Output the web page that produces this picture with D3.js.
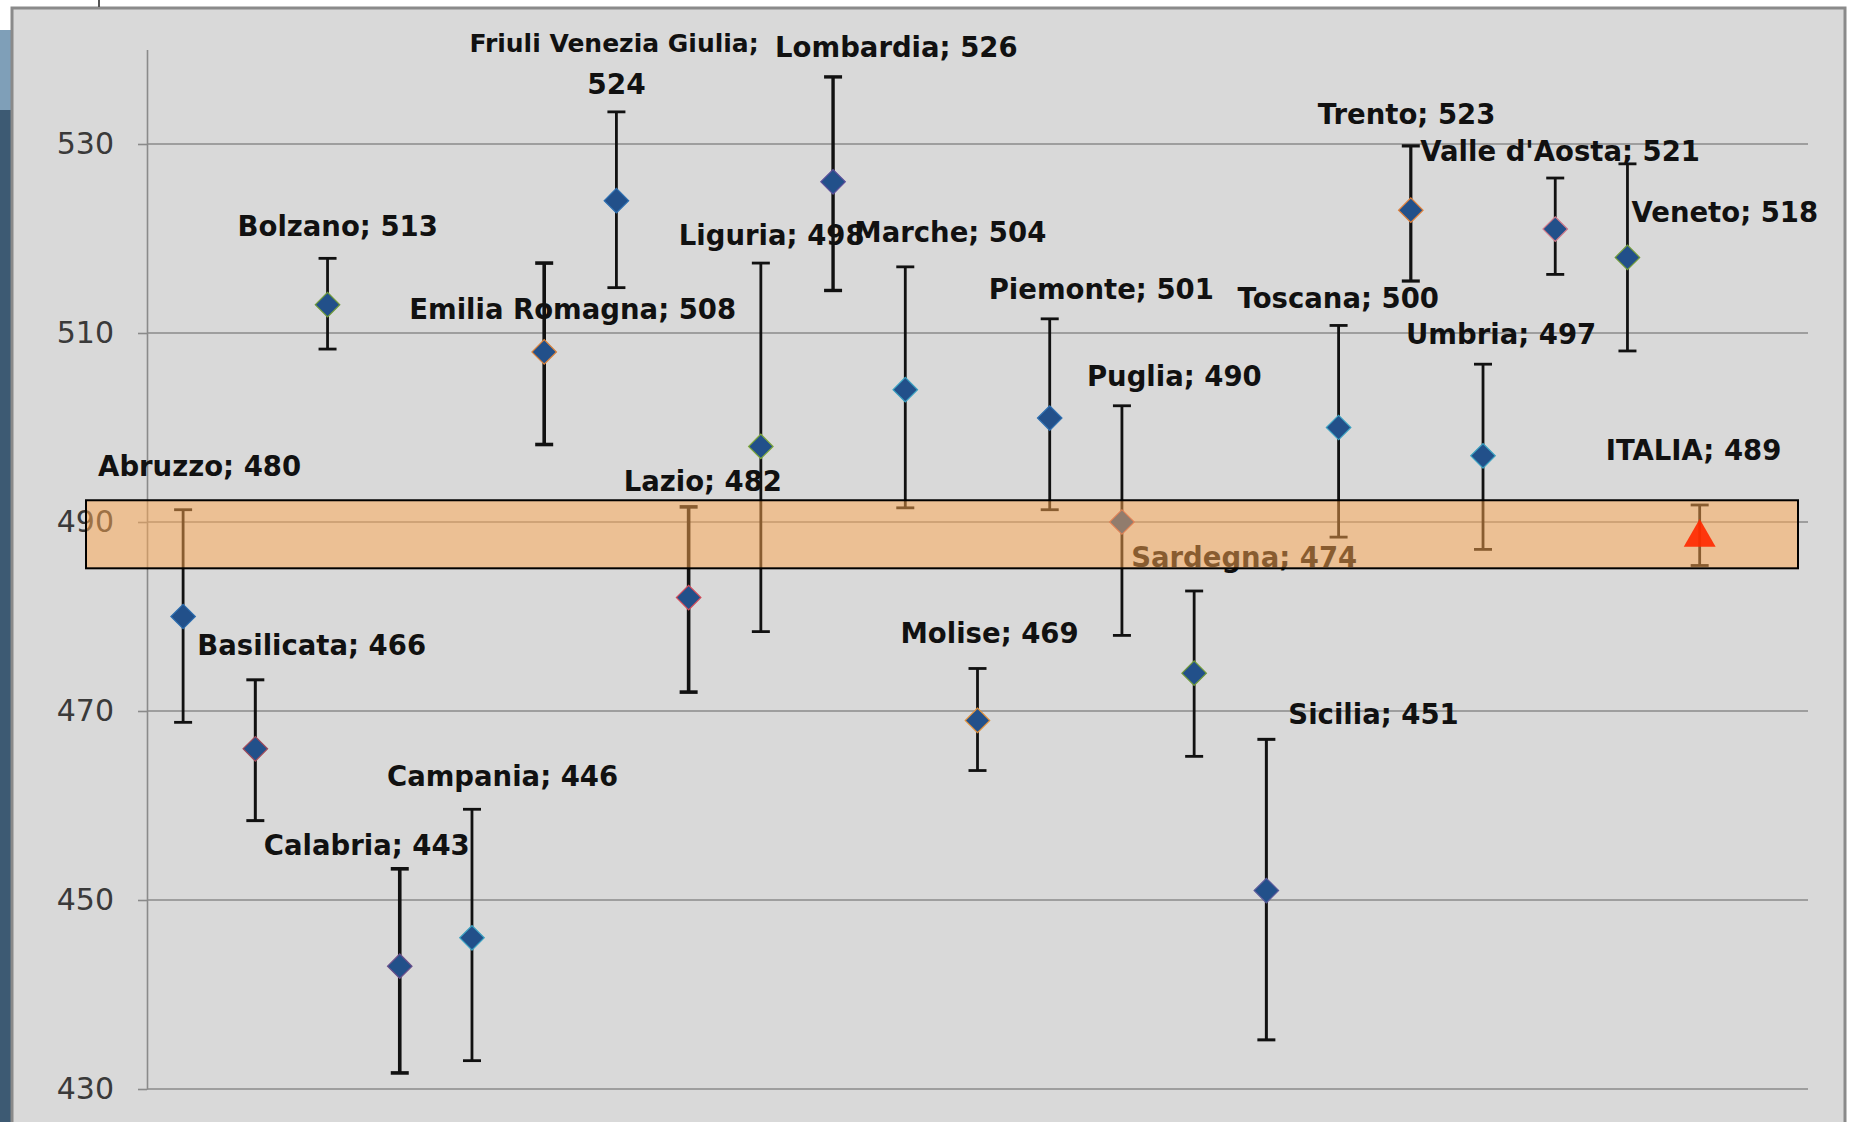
<!DOCTYPE html>
<html>
<head>
<meta charset="utf-8">
<script src="https://cdn.jsdelivr.net/npm/d3@7"></script>
<style>
  html, body { margin: 0; padding: 0; background: #ffffff; }
  svg { display: block; }
</style>
</head>
<body>
<svg id="chart" width="1849" height="1122"></svg>
<script>
// ---------------- data ----------------
const regions = ["Abruzzo", "Basilicata", "Bolzano", "Calabria", "Campania", "Emilia Romagna",
  "Friuli Venezia Giulia", "Lazio", "Liguria", "Lombardia", "Marche", "Molise", "Piemonte",
  "Puglia", "Sardegna", "Sicilia", "Toscana", "Trento", "Umbria", "Valle d'Aosta", "Veneto", "ITALIA"];
const scores = [480, 466, 513, 443, 446, 508, 524, 482, 498, 526, 504, 469, 501, 490, 474, 451, 500, 523, 497, 521, 518, 489];
const lowerCI = [468.8, 458.4, 508.3, 431.7, 433.0, 498.2, 514.8, 472.0, 478.4, 514.5, 491.5, 463.7, 491.3, 478.0, 465.2, 435.2, 488.4, 515.5, 487.1, 516.2, 508.1, 485.4];
const upperCI = [491.3, 473.3, 517.9, 453.3, 459.6, 517.4, 533.4, 491.6, 517.4, 537.1, 517.0, 474.5, 511.5, 502.3, 482.7, 467.0, 510.8, 529.8, 506.7, 526.4, 527.9, 491.8];
const yTicks = [430, 450, 470, 490, 510, 530];
const italiaBand = [485.1, 492.3];

// ---------------- layout (label offsets relative to marker, px) ----------------
const labelOffsets = [
  [-85, -150], [-58, -103], [-90, -78], [-136, -121], [-85, -161], [-135, -43],
  [-147, -157], [-65, -116], [-82, -211], [-58, -134], [-51, -157], [-77, -87],
  [-61, -129], [-35, -146], [-63, -116], [22, -176], [-101, -129], [-93, -96],
  [-77, -121], [-135, -78], [4, -45], [-94, -81]
];
const markerOutline = ["#2e6fb0", "#a04a5a", "#6f9a3a", "#6a4f8a", "#3aa0c0", "#d9813a",
  "#2e6fb0", "#d04a5a", "#7fa83a", "#5a4f9a", "#3aa0c0", "#e0903a", "#2e6fb0",
  "#c05a5a", "#6f9a3a", "#5a5a9a", "#3aa0c0", "#e0803a", "#3aa0c0", "#d07a8a", "#6f9a3a", "#ff2000"];
const barWidths = [2.8, 3, 2.8, 3.6, 2.8, 3.6, 2.8, 3.6, 2.8, 3.4, 2.8, 2.8, 2.8, 2.8, 2.8, 3, 2.8, 3.2, 2.8, 2.8, 2.8, 2.8];

// ---------------- drawing ----------------
const svg = d3.select("#chart");
const W = 1849, H = 1122;

svg.append("rect").attr("x", 0).attr("y", 0).attr("width", W).attr("height", H).attr("fill", "#ffffff");
svg.append("rect").attr("x", 0).attr("y", 30).attr("width", 12).attr("height", H - 30).attr("fill", "#3d5a73");
svg.append("rect").attr("x", 0).attr("y", 30).attr("width", 12).attr("height", 80).attr("fill", "#7f9fb8");
svg.append("rect").attr("x", 12).attr("y", 8).attr("width", 1833).attr("height", H).attr("fill", "#d9d9d9")
  .attr("stroke", "#8a8a8a").attr("stroke-width", 3);
svg.append("line").attr("x1", 99).attr("x2", 99).attr("y1", 0).attr("y2", 7).attr("stroke", "#555").attr("stroke-width", 2);

const x = d3.scaleLinear().domain([0, 23]).range([147, 1808]);
const y = d3.scaleLinear().domain([430, 540]).range([1089, 49.5]);

const yAxis = d3.axisLeft(y).tickValues(yTicks).tickSize(9).tickSizeOuter(0).tickPadding(24);
const ag = svg.append("g").attr("transform", `translate(${x(0)},0)`).call(yAxis);
ag.select(".domain").attr("stroke", "#8a8a8a").attr("stroke-width", 1.6);
ag.selectAll(".tick line").attr("stroke", "#8a8a8a").attr("stroke-width", 1.6);
ag.selectAll(".tick text").attr("font-family", "DejaVu Sans").attr("font-size", 30).attr("fill", "#3a3a3a");

svg.append("g").selectAll("line").data(yTicks).join("line")
  .attr("x1", x(0)).attr("x2", x(23))
  .attr("y1", d => y(d)).attr("y2", d => y(d))
  .attr("stroke", "#8a8a8a").attr("stroke-width", 1.6);

const cx = i => x(i + 0.5);

// error bars
const eb = svg.append("g").attr("stroke", "#111");
regions.forEach((r, i) => {
  const g = eb.append("g").attr("stroke-width", barWidths[i]);
  g.append("line").attr("x1", cx(i)).attr("x2", cx(i)).attr("y1", y(upperCI[i])).attr("y2", y(lowerCI[i]));
  g.append("line").attr("x1", cx(i) - 9).attr("x2", cx(i) + 9).attr("y1", y(upperCI[i])).attr("y2", y(upperCI[i]));
  g.append("line").attr("x1", cx(i) - 9).attr("x2", cx(i) + 9).attr("y1", y(lowerCI[i])).attr("y2", y(lowerCI[i]));
});

// markers (diamonds)
const diamond = d3.symbol().type(d3.symbolSquare).size(300);
regions.forEach((r, i) => {
  if (r !== "ITALIA") {
    svg.append("path").attr("d", diamond())
      .attr("transform", `translate(${cx(i)},${y(scores[i])}) rotate(45)`)
      .attr("fill", "#22508a").attr("stroke", markerOutline[i]).attr("stroke-width", 1.2);
  }
});

// data labels
const lg = svg.append("g").attr("font-family", "DejaVu Sans").attr("font-weight", "bold").attr("fill", "#111");
regions.forEach((r, i) => {
  const px = cx(i) + labelOffsets[i][0];
  const py = y(scores[i]) + labelOffsets[i][1];
  if (r === "Friuli Venezia Giulia") {
    lg.append("text").attr("x", px).attr("y", py).attr("dy", "0.35em").attr("font-size", 25)
      .text(r + ";");
    lg.append("text").attr("x", cx(i)).attr("y", y(scores[i]) - 117).attr("dy", "0.35em")
      .attr("font-size", 28).attr("text-anchor", "middle").text(String(scores[i]));
  } else {
    lg.append("text").attr("x", px).attr("y", py).attr("dy", "0.35em").attr("font-size", 27.5)
      .text(`${r}; ${scores[i]}`);
  }
});

// Italia reference band (on top, semi-transparent)
svg.append("rect")
  .attr("x", 86).attr("width", 1798 - 86)
  .attr("y", y(italiaBand[1])).attr("height", y(italiaBand[0]) - y(italiaBand[1]))
  .attr("fill", "#ffa850").attr("fill-opacity", 0.5)
  .attr("stroke", "#000").attr("stroke-width", 2);

// ITALIA marker (red triangle)
const iIt = regions.indexOf("ITALIA");
svg.append("path").attr("d", d3.symbol().type(d3.symbolTriangle).size(440)())
  .attr("transform", `translate(${cx(iIt)},${y(scores[iIt]) + 6})`)
  .attr("fill", "#ff2a00").attr("fill-opacity", 0.92);
</script>
</body>
</html>
